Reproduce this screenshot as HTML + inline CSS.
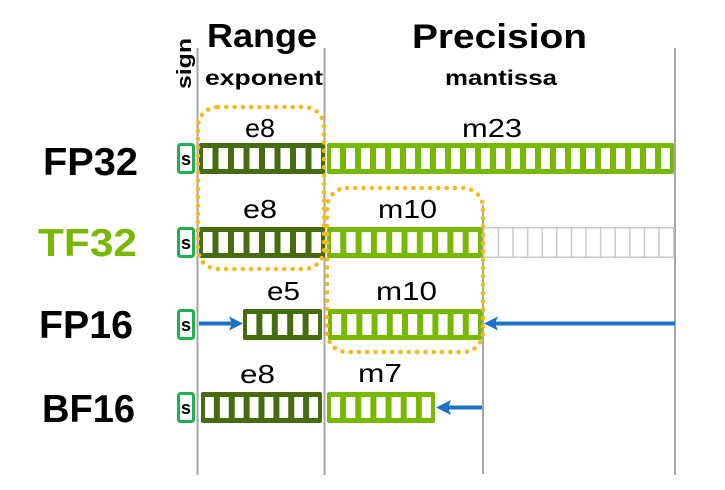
<!DOCTYPE html>
<html>
<head>
<meta charset="utf-8">
<style>
  html,body{margin:0;padding:0;background:#fff;}
  svg{display:block;}
  text{font-family:"Liberation Sans",Arial,sans-serif;}
</style>
</head>
<body>
<svg width="725" height="490" viewBox="0 0 725 490" xmlns="http://www.w3.org/2000/svg">
  <rect x="0" y="0" width="725" height="490" fill="#fff"/>

  <!-- vertical gray guide lines -->
  <g stroke="#a6a6a6" stroke-width="2">
    <line x1="197.5" y1="48" x2="197.5" y2="475"/>
    <line x1="324.5" y1="48" x2="324.5" y2="475"/>
    <line x1="483" y1="205" x2="483" y2="474"/>
    <line x1="675" y1="48" x2="675" y2="475"/>
  </g>

  <!-- headers -->
  <text x="207" y="47" font-size="33" font-weight="bold" fill="#000" textLength="110" lengthAdjust="spacingAndGlyphs">Range</text>
  <text x="412" y="48" font-size="34" font-weight="bold" fill="#000" textLength="175" lengthAdjust="spacingAndGlyphs">Precision</text>
  <text x="205" y="85" font-size="21" font-weight="bold" fill="#000" textLength="118" lengthAdjust="spacingAndGlyphs">exponent</text>
  <text x="445" y="85" font-size="21" font-weight="bold" fill="#000" textLength="112" lengthAdjust="spacingAndGlyphs">mantissa</text>
  <text transform="translate(191,89) rotate(-90)" font-size="20" font-weight="bold" fill="#000" textLength="51" lengthAdjust="spacingAndGlyphs">sign</text>

  <!-- row labels -->
  <text x="43" y="175" font-size="39" font-weight="bold" fill="#000" textLength="95" lengthAdjust="spacingAndGlyphs">FP32</text>
  <text x="38" y="256" font-size="39" font-weight="bold" fill="#76b900" textLength="99" lengthAdjust="spacingAndGlyphs">TF32</text>
  <text x="39" y="338" font-size="39" font-weight="bold" fill="#000" textLength="94" lengthAdjust="spacingAndGlyphs">FP16</text>
  <text x="42" y="422" font-size="39" font-weight="bold" fill="#000" textLength="93" lengthAdjust="spacingAndGlyphs">BF16</text>

  <!-- field labels -->
  <g font-size="26" fill="#000">
    <text x="245" y="137" textLength="30" lengthAdjust="spacingAndGlyphs">e8</text>
    <text x="462" y="137" textLength="60" lengthAdjust="spacingAndGlyphs">m23</text>
    <text x="243" y="218" textLength="34" lengthAdjust="spacingAndGlyphs">e8</text>
    <text x="378" y="218" textLength="59" lengthAdjust="spacingAndGlyphs">m10</text>
    <text x="267" y="300" textLength="33" lengthAdjust="spacingAndGlyphs">e5</text>
    <text x="376" y="300" textLength="61" lengthAdjust="spacingAndGlyphs">m10</text>
    <text x="240" y="383" textLength="35" lengthAdjust="spacingAndGlyphs">e8</text>
    <text x="358" y="382" textLength="44" lengthAdjust="spacingAndGlyphs">m7</text>
  </g>

  <!-- sign boxes -->
  <g fill="#fff" stroke="#1fb04f" stroke-width="3">
    <rect x="178.5" y="144.5" width="15" height="28" rx="2"/>
    <rect x="178.5" y="228.5" width="15" height="28" rx="2"/>
    <rect x="178.5" y="310.5" width="15" height="28" rx="2"/>
    <rect x="178.5" y="393.5" width="15" height="28" rx="2"/>
  </g>
  <g font-size="18" font-weight="bold" fill="#000" text-anchor="middle">
    <text x="186" y="165">s</text>
    <text x="186" y="249">s</text>
    <text x="186" y="331">s</text>
    <text x="186" y="414">s</text>
  </g>

  <!-- FP32 -->
  <rect x="199" y="143" width="126" height="31" rx="2" fill="#466c10"/>
  <line x1="203" y1="158.5" x2="321" y2="158.5" stroke="#fff" stroke-width="21" stroke-dasharray="9.5 6"/>
  <rect x="327" y="143" width="347" height="31" rx="2" fill="#76b900"/>
  <line x1="331" y1="158.5" x2="670" y2="158.5" stroke="#fff" stroke-width="21" stroke-dasharray="9 6"/>

  <!-- TF32 -->
  <rect x="199" y="227" width="126" height="31" rx="2" fill="#466c10"/>
  <line x1="203" y1="242.5" x2="321" y2="242.5" stroke="#fff" stroke-width="21" stroke-dasharray="9.5 6"/>
  <rect x="327" y="227" width="155" height="31" rx="2" fill="#76b900"/>
  <line x1="331" y1="242.5" x2="478" y2="242.5" stroke="#fff" stroke-width="21" stroke-dasharray="9.3 6"/>
  <rect x="483.75" y="227.75" width="190" height="29.5" fill="#fff" stroke="#c8c8c8" stroke-width="1.5"/>
  <line x1="497.7" y1="242.5" x2="674" y2="242.5" stroke="#c8c8c8" stroke-width="29.5" stroke-dasharray="1.5 13.1"/>

  <!-- FP16 -->
  <rect x="243" y="309" width="79" height="31" rx="2" fill="#466c10"/>
  <line x1="247" y1="324.5" x2="318" y2="324.5" stroke="#fff" stroke-width="21" stroke-dasharray="9.4 6"/>
  <rect x="328" y="309" width="154" height="31" rx="2" fill="#76b900"/>
  <line x1="332" y1="324.5" x2="478" y2="324.5" stroke="#fff" stroke-width="21" stroke-dasharray="9.2 6"/>

  <!-- BF16 -->
  <rect x="201" y="392" width="121" height="31" rx="2" fill="#466c10"/>
  <line x1="205" y1="407.5" x2="318" y2="407.5" stroke="#fff" stroke-width="21" stroke-dasharray="8.875 6"/>
  <rect x="327" y="392" width="108" height="31" rx="2" fill="#76b900"/>
  <line x1="331" y1="407.5" x2="431" y2="407.5" stroke="#fff" stroke-width="21" stroke-dasharray="9.14 6"/>

  <!-- dotted highlight regions -->
  <g fill="none" stroke="#f7b818" stroke-width="4.5" stroke-linecap="round" stroke-dasharray="0 8.3">
    <rect x="198" y="107" width="126" height="162" rx="20"/>
    <rect x="327" y="188" width="156" height="164" rx="20"/>
  </g>

  <!-- blue arrows -->
  <g stroke="#1b72c6" stroke-width="4" fill="none">
    <line x1="199" y1="323.5" x2="233" y2="323.5"/>
    <line x1="495" y1="323.5" x2="675" y2="323.5"/>
    <line x1="448" y1="407.5" x2="482" y2="407.5"/>
  </g>
  <g fill="#1b72c6">
    <polygon points="243,323.5 229,316.5 232,323.5 229,330.5"/>
    <polygon points="484,323.5 498,316.5 495,323.5 498,330.5"/>
    <polygon points="436,407.5 451,400 448,407.5 451,415"/>
  </g>
</svg>
</body>
</html>
